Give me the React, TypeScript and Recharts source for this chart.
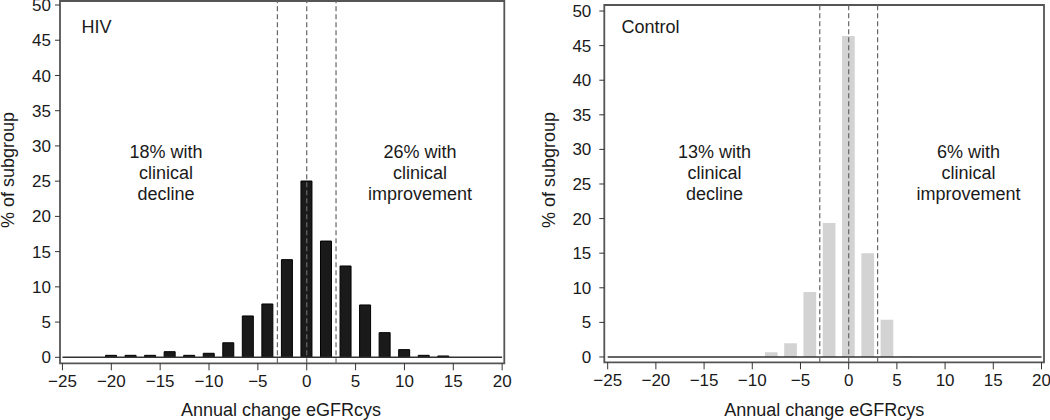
import type { FC } from "react";
import {
  ComposedChart,
  XAxis,
  YAxis,
  Bar,
  ReferenceLine,
  ReferenceArea,
} from "recharts";

const hivBins = [-20, -18, -16, -14, -12, -10, -8, -6, -4, -2, 0, 2, 4, 6, 8, 10, 12, 14];
const hivPct = [0.28, 0.28, 0.28, 0.8, 0.28, 0.57, 2.06, 5.87, 7.57, 13.86, 25.02, 16.5, 12.96, 7.43, 3.5, 1.09, 0.28, 0.19];

const controlBins = [-8, -6, -4, -2, 0, 2, 4, 6];
const controlPct = [0.68, 1.98, 9.39, 19.36, 46.4, 14.98, 5.39, 0.12];

const xTicks = [-25, -20, -15, -10, -5, 0, 5, 10, 15, 20];
const yTicks = [0, 5, 10, 15, 20, 25, 30, 35, 40, 45, 50];
const cutoffs = [-3, 0, 3];

const hivData = hivBins.map((x, i) => ({ x, pct: hivPct[i] }));
const controlData = controlBins.map((x, i) => ({ x, pct: controlPct[i] }));

const FONT = "'Liberation Sans', Arial, sans-serif";
const fmt = (v: number) => (v < 0 ? `\u2212${Math.abs(v)}` : `${v}`);

type PanelProps = {
  data: { x: number; pct: number }[];
  title: string;
  left: [string, string, string];
  right: [string, string, string];
  fill: string;
  stroke: string;
  barSize: number;
  xDomain: [number, number];
  yDomain: [number, number];
  yAxisWidth: number;
  marginTop: number;
  marginRight: number;
  xAxisHeight: number;
  yTickMargin: number;
  labelX: number;
  titleX: number;
  leftX: number;
  rightX: number;
  axisTitleX: number;
};

const Panel: FC<PanelProps> = (p) => {
  const txt = { fontFamily: FONT, fontSize: 18, fill: "#1a1a1a" };
  const tick = { fill: "#1a1a1a", fontSize: 17, fontFamily: FONT };
  return (
    <ComposedChart
      width={525}
      height={420}
      data={p.data}
      margin={{ top: p.marginTop, right: p.marginRight, left: 0, bottom: 0 }}
    >
      <XAxis
        dataKey="x"
        type="number"
        domain={p.xDomain}
        ticks={xTicks}
        allowDataOverflow
        tickFormatter={fmt}
        height={p.xAxisHeight}
        tickSize={7}
        tickMargin={5}
        axisLine={false}
        tickLine={{ stroke: "#333" }}
        tick={tick}
        interval={0}
      />
      <YAxis
        type="number"
        domain={p.yDomain}
        ticks={yTicks}
        allowDataOverflow
        width={p.yAxisWidth}
        tickSize={5}
        tickMargin={p.yTickMargin}
        axisLine={false}
        tickLine={{ stroke: "#333" }}
        tick={tick}
        interval={0}
      />
      <Bar
        dataKey="pct"
        fill={p.fill}
        stroke={p.stroke}
        strokeWidth={1}
        barSize={p.barSize}
        isAnimationActive={false}
      />
      <ReferenceLine
        segment={[{ x: -25, y: 0 }, { x: 20, y: 0 }]}
        stroke="#333"
        strokeWidth={1.5}
      />
      {cutoffs.map((c) => (
        <ReferenceLine key={c} x={c} stroke="#666" strokeDasharray="5 3" strokeWidth={1.2} />
      ))}
      <ReferenceArea
        x1={p.xDomain[0]}
        x2={p.xDomain[1]}
        y1={p.yDomain[0]}
        y2={p.yDomain[1]}
        fill="none"
        fillOpacity={0}
        stroke="#555"
        strokeWidth={1.8}
        ifOverflow="visible"
      />
      <text x={p.titleX} y={33} {...txt} textAnchor="start">{p.title}</text>
      {p.left.map((s, i) => (
        <text key={`l${i}`} x={p.leftX} y={158 + i * 21} {...txt} textAnchor="middle">{s}</text>
      ))}
      {p.right.map((s, i) => (
        <text key={`r${i}`} x={p.rightX} y={158 + i * 21} {...txt} textAnchor="middle">{s}</text>
      ))}
      <text x={p.axisTitleX} y={416} {...txt} textAnchor="middle">Annual change eGFRcys</text>
      <text
        x={p.labelX}
        y={170}
        {...txt}
        textAnchor="middle"
        transform={`rotate(-90 ${p.labelX} 170)`}
      >
        % of subgroup
      </text>
    </ComposedChart>
  );
};

const App: FC = () => {
  return (
    <div style={{ position: "absolute", left: 0, top: 0, width: 1050, height: 420, background: "#fff" }}>
      <div style={{ position: "absolute", left: 0, top: 0 }}>
        <Panel
          data={hivData}
          title="HIV"
          left={["18% with", "clinical", "decline"]}
          right={["26% with", "clinical", "improvement"]}
          fill="#1a1a1a"
          stroke="#000"
          barSize={11}
          xDomain={[-25.25, 20.22]}
          yDomain={[-0.85, 50.57]}
          yAxisWidth={60}
          marginTop={1}
          marginRight={20.7}
          xAxisHeight={56.7}
          yTickMargin={4}
          labelX={14}
          titleX={81.5}
          leftX={166}
          rightX={420}
          axisTitleX={281}
        />
      </div>
      <div style={{ position: "absolute", left: 525, top: 0 }}>
        <Panel
          data={controlData}
          title="Control"
          left={["13% with", "clinical", "decline"]}
          right={["6% with", "clinical", "improvement"]}
          fill="#d3d3d3"
          stroke="none"
          barSize={12.7}
          xDomain={[-25.35, 20.26]}
          yDomain={[-0.77, 50.87]}
          yAxisWidth={79.3}
          marginTop={5}
          marginRight={6}
          xAxisHeight={57.7}
          yTickMargin={8}
          labelX={30}
          titleX={96.5}
          leftX={189.5}
          rightX={443.5}
          axisTitleX={299.2}
        />
      </div>
    </div>
  );
};

export default App;
